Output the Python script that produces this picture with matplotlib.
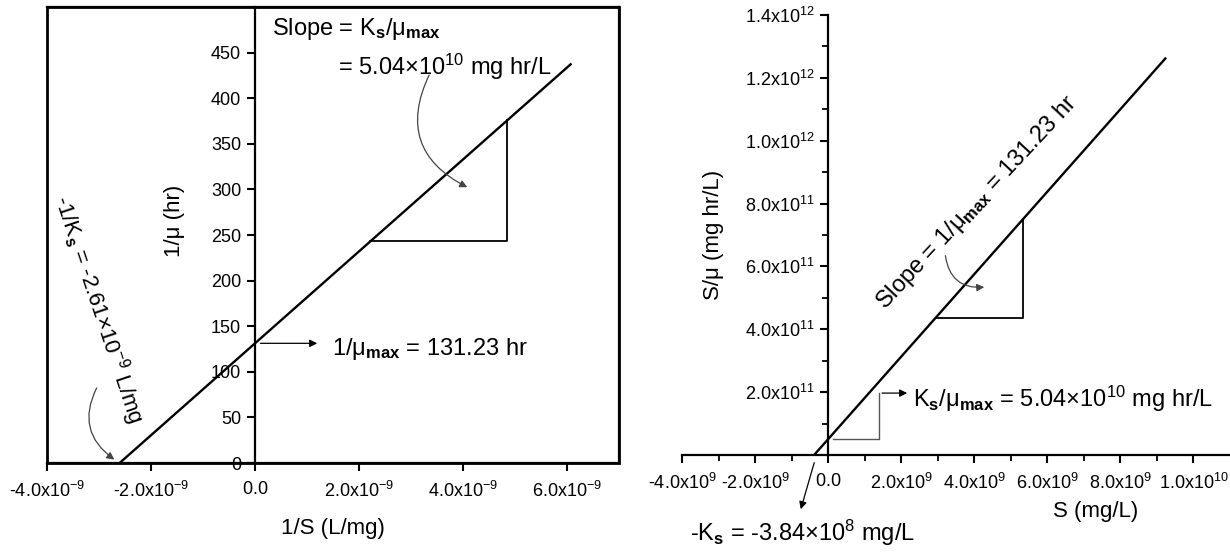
#!/usr/bin/env python
# -*- coding: utf-8 -*-

"""
Lineweaver-Burk and Hanes-Woolf linearisations of the Monod fit.
"""

import numpy as np
import matplotlib.pyplot as plt
from matplotlib.patches import Rectangle

plt.rcParams["font.family"] = "Liberation Sans"
plt.rcParams["mathtext.fontset"] = "custom"
plt.rcParams["mathtext.rm"] = "Liberation Sans"
plt.rcParams["mathtext.it"] = "Liberation Sans:italic"
plt.rcParams["mathtext.bf"] = "Liberation Sans:bold"

# -- Lineweaver-Burk: 1/mu = Ks/mu_max * (1/S) + 1/mu_max
lb_slope = 5.04e10           # mg hr/L
lb_icept = 131.23            # hr
lb_xend  = [-2.61e-9, 6.07e-9]
lb_tri_x = [2.22e-9, 4.85e-9]

# -- Hanes-Woolf: S/mu = 1/mu_max * S + Ks/mu_max
hw_slope = 131.23            # hr
hw_icept = 5.04e10           # mg hr/L
hw_xend  = [-3.84e8, 9.23e9]
hw_tri_x = [2.94e9, 5.34e9]

# -- ticks
lb_xticks = [-4e-9, -2e-9, 0.0, 2e-9, 4e-9, 6e-9]
lb_xlabs  = ["-4.0x10^{-9}", "-2.0x10^{-9}", "0.0", "2.0x10^{-9}",
             "4.0x10^{-9}", "6.0x10^{-9}"]
lb_yticks = [0, 50, 100, 150, 200, 250, 300, 350, 400, 450]

hw_xticks = [-4e9, -2e9, 0.0, 2e9, 4e9, 6e9, 8e9, 1e10]
hw_xlabs  = ["-4.0x10^9", "-2.0x10^9", "0.0", "2.0x10^9", "4.0x10^9",
             "6.0x10^9", "8.0x10^9", "1.0x10^{10}"]
hw_yticks = [2e11, 4e11, 6e11, 8e11, 1e12, 1.2e12, 1.4e12]
hw_ylabs  = ["2.0x10^{11}", "4.0x10^{11}", "6.0x10^{11}", "8.0x10^{11}",
             "1.0x10^{12}", "1.2x10^{12}", "1.4x10^{12}"]


def mreg(s):
    # leading sign stays a plain hyphen, the rest goes through mathtext
    sign = ""
    if s.startswith("-"):
        sign, s = "-", s[1:]
    return sign + r"$\mathregular{" + s + "}$"


W, H = 1230.0, 554.0
fig = plt.figure(figsize=(W / 100, H / 100), dpi=100)

tick_fs = 13
lab_fs  = 16
ann_fs  = 17
arr_col = "#444444"

# ---------------------------------------------------------------- left panel
ax1 = fig.add_axes([47 / W, (H - 463) / H, 572 / W, 456 / H])
ax1.set_xlim(-4e-9, 7e-9)
ax1.set_ylim(0, 500)
ax1.spines["left"].set_position(("data", 0))
for s in ax1.spines.values():
    s.set_linewidth(1.6)
ax1.add_patch(Rectangle((0, 0), 1, 1, transform=ax1.transAxes, fill=False,
                        lw=2.0, ec="k", clip_on=False, zorder=5))

ax1.set_xticks(lb_xticks)
ax1.set_xticklabels([mreg(t) for t in lb_xlabs])
ax1.set_yticks(lb_yticks)
ax1.set_yticklabels([str(t) for t in lb_yticks])
ax1.tick_params(direction="out", length=6, width=1.5, labelsize=tick_fs,
                pad=4)
ax1.tick_params(axis="x", pad=7)
ax1.tick_params(top=False, right=False)

ax1.set_xlabel("1/S (L/mg)", fontsize=lab_fs)
ax1.xaxis.set_label_coords(0.5, -0.12)
ax1.set_ylabel("1/μ (hr)", fontsize=lab_fs)
ax1.yaxis.set_label_coords(0.241, 0.53)

lx = np.array(lb_xend)
ax1.plot(lx, lb_icept + lb_slope * lx, "k-", lw=1.7)
tx = np.array(lb_tri_x)
ty = lb_icept + lb_slope * tx
ax1.plot([tx[0], tx[1], tx[1]], [ty[0], ty[0], ty[1]], "k-", lw=1.3)

# slope label with curved pointer into the triangle
ax1.text(0.33e-9, 469, "Slope = K$_{\\mathbf{s}}$/μ$_{\\mathbf{max}}$",
         fontsize=ann_fs, va="baseline")
ax1.text(1.6e-9, 426, "= 5.04×10$^{10}$ mg hr/L", fontsize=ann_fs,
         va="baseline")
ax1.annotate("", xy=(4.13e-9, 301), xytext=(3.37e-9, 428),
             arrowprops=dict(arrowstyle="-|>", color=arr_col, lw=0.9,
                             mutation_scale=11,
                             connectionstyle="arc3,rad=0.5"))

# intercept label
ax1.annotate("", xy=(1.25e-9, lb_icept), xytext=(0.05e-9, lb_icept),
             arrowprops=dict(arrowstyle="-|>", color="k", lw=0.9,
                             mutation_scale=11))
ax1.text(1.48e-9, 118, "1/μ$_{\\mathbf{max}}$ = 131.23 hr",
         fontsize=ann_fs, va="baseline")

# x-intercept label
ax1.text(-3.0e-9, 168, "-1/K$_{\\mathbf{s}}$ = -2.61×10$^{-9}$ L/mg",
         fontsize=16, rotation=-71.5, rotation_mode="anchor",
         ha="center", va="center")
ax1.annotate("", xy=(-2.66e-9, 2), xytext=(-3.02e-9, 85),
             arrowprops=dict(arrowstyle="-|>", color=arr_col, lw=0.9,
                             mutation_scale=11,
                             connectionstyle="arc3,rad=0.45"))

# --------------------------------------------------------------- right panel
ax2 = fig.add_axes([682 / W, (H - 455) / H, 548 / W, 440 / H])
ax2.set_xlim(-4e9, 1.1e10)
ax2.set_ylim(0, 1.4e12)
ax2.spines["left"].set_position(("data", 0))
ax2.spines["top"].set_visible(False)
ax2.spines["right"].set_visible(False)
for s in ("left", "bottom"):
    ax2.spines[s].set_linewidth(1.6)

ax2.set_xticks(hw_xticks)
ax2.set_xticklabels([mreg(t) for t in hw_xlabs])
ax2.set_xticks(np.arange(-3e9, 1.1e10, 2e9), minor=True)
ax2.set_yticks(hw_yticks)
ax2.set_yticklabels([mreg(t) for t in hw_ylabs])
ax2.set_yticks(np.arange(1e11, 1.4e12, 2e11), minor=True)
ax2.tick_params(direction="out", length=6, width=1.5, labelsize=tick_fs,
                pad=4)
ax2.tick_params(axis="x", pad=7)
ax2.tick_params(which="minor", direction="out", length=4, width=1.3)

ax2.set_xlabel("S (mg/L)", fontsize=lab_fs)
ax2.xaxis.set_label_coords(0.755, -0.105)
ax2.set_ylabel("S/μ (mg hr/L)", fontsize=lab_fs)
ax2.yaxis.set_label_coords(0.077, 0.5)

hx = np.array(hw_xend)
ax2.plot(hx, hw_icept + hw_slope * hx, "k-", lw=1.7)
tx = np.array(hw_tri_x)
ty = hw_icept + hw_slope * tx
ax2.plot([tx[0], tx[1], tx[1]], [ty[0], ty[0], ty[1]], "k-", lw=1.3)

# slope label along the line
ax2.text(4.08e9, 8.02e11, "Slope = 1/μ$_{\\mathbf{max}}$ = 131.23 hr",
         fontsize=ann_fs, rotation=47, rotation_mode="anchor",
         ha="center", va="center")
ax2.annotate("", xy=(4.35e9, 5.35e11), xytext=(3.2e9, 6.43e11),
             arrowprops=dict(arrowstyle="-|>", color=arr_col, lw=0.9,
                             mutation_scale=11,
                             connectionstyle="arc3,rad=0.5"))

# y-intercept label with elbow leader
ax2.plot([0.14e9, 1.4e9, 1.4e9], [hw_icept, hw_icept, 1.97e11],
         color="#555555", lw=1.0)
ax2.annotate("", xy=(2.24e9, 1.97e11), xytext=(1.4e9, 1.97e11),
             arrowprops=dict(arrowstyle="-|>", color="k", lw=0.9,
                             mutation_scale=11))
ax2.text(2.33e9, 1.53e11,
         "K$_{\\mathbf{s}}$/μ$_{\\mathbf{max}}$ = 5.04×10$^{10}$ mg hr/L",
         fontsize=ann_fs, va="baseline")

# x-intercept label below the axis
ax2.annotate("", xy=(-0.77e9, -1.81e11), xytext=(-0.36e9, -1.6e10),
             annotation_clip=False,
             arrowprops=dict(arrowstyle="-|>", color="k", lw=0.9,
                             mutation_scale=11))
ax2.text(-3.78e9, -2.74e11, "-K$_{\\mathbf{s}}$ = -3.84×10$^{8}$ mg/L",
         fontsize=ann_fs, va="baseline", clip_on=False)

fig.savefig("out.png", dpi=100)
